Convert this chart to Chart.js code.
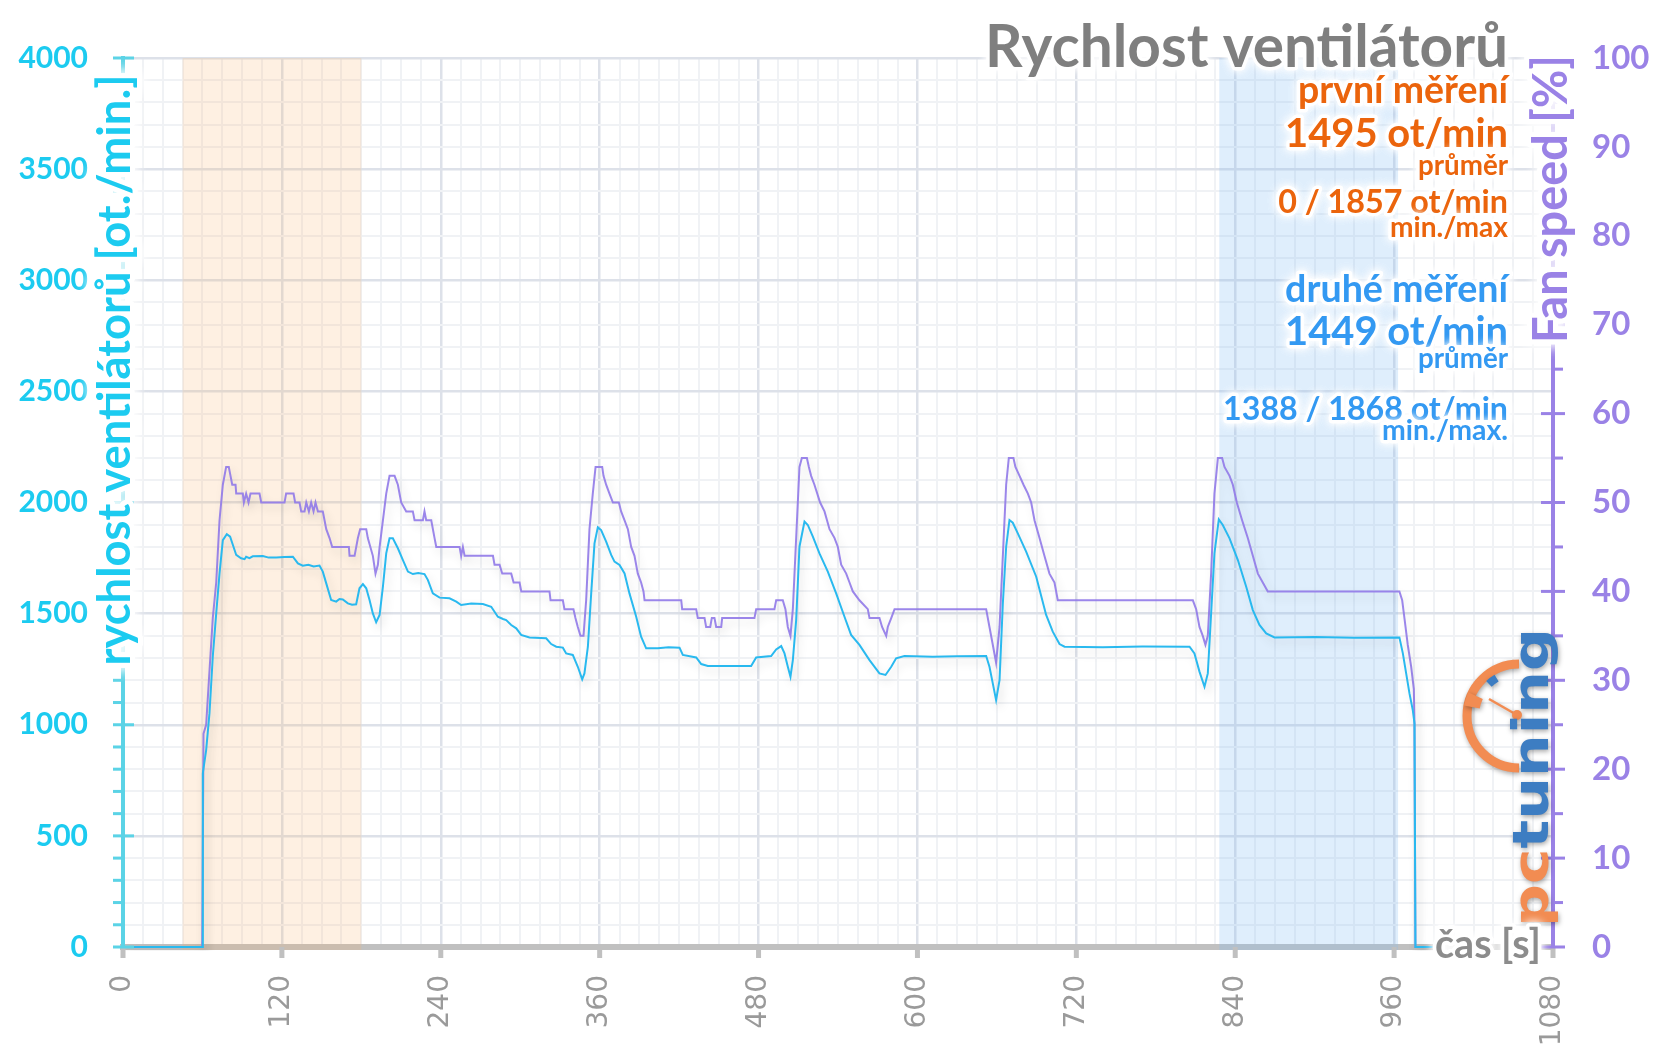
<!DOCTYPE html>
<html>
<head>
<meta charset="utf-8">
<title>Rychlost ventilátorů</title>
<script src="https://cdn.jsdelivr.net/npm/chart.js@4.4.1/dist/chart.umd.min.js"></script>
<style>
  html, body { margin: 0; padding: 0; background: #fff; }
  canvas { display: block; }
</style>
</head>
<body>
<canvas id="fanChart" width="1656" height="1044"></canvas>
<script>
// values: [time s, value]
const rpmSamples = [
  [0, 0], [59.8, 0], [60.3, 782], [62.8, 886], [65.3, 1051], [67.8, 1306], [70.4, 1501], [72.9, 1681],
  [75.4, 1831], [78.4, 1857], [80.9, 1846], [83.0, 1809], [85.5, 1764], [89.2, 1749], [91.8, 1745],
  [93.0, 1756], [95.5, 1750], [98, 1758], [105.6, 1759], [110, 1752], [115.7, 1753], [122, 1755],
  [128.3, 1756], [132.1, 1726], [135.8, 1716], [140, 1720], [144, 1712], [148.4, 1716], [150.9, 1689],
  [153.5, 1636], [157.2, 1561], [161.0, 1554], [163.5, 1566], [166.0, 1564], [169.8, 1546], [173, 1540],
  [176.1, 1542], [178.6, 1614], [181.2, 1633], [183.7, 1614], [186.2, 1561], [188.7, 1501], [191.2, 1461],
  [193.8, 1494], [196.3, 1621], [198.8, 1771], [201.3, 1839], [203.8, 1839], [207.6, 1794], [211.4, 1741],
  [215.2, 1689], [218.9, 1678], [223, 1683], [227.7, 1678], [230.3, 1651], [234.0, 1591], [239.1, 1572],
  [246.6, 1569], [251.7, 1554], [255.4, 1539], [263, 1545], [271.8, 1543], [278.1, 1531], [283.1, 1486],
  [287, 1476], [289.4, 1471], [293.2, 1449], [297.0, 1434], [300.7, 1404], [307.0, 1393], [319.6, 1389],
  [323.4, 1363], [327.2, 1351], [332.2, 1347], [334.7, 1321], [339.7, 1314], [343.5, 1261], [346.8, 1204],
  [348.5, 1231], [351.1, 1351], [353.6, 1591], [356.1, 1816], [358.6, 1888], [361.1, 1876], [364.9, 1824],
  [368.7, 1764], [371.2, 1734], [375.0, 1719], [378.8, 1681], [382.5, 1591], [387.6, 1486], [391.3, 1396],
  [395.1, 1344], [403.9, 1344], [412, 1349], [420.3, 1347], [422.8, 1314], [432.9, 1303], [436.7, 1273],
  [441.7, 1264], [474.4, 1264], [478.2, 1303], [489.5, 1309], [493.3, 1339], [497.1, 1354], [499.6, 1321],
  [502.1, 1261], [504.1, 1216], [505.9, 1291], [508.4, 1471], [510.9, 1801], [514.7, 1914], [517.2, 1899],
  [521.0, 1846], [526.0, 1771], [532.3, 1689], [538.6, 1591], [544.9, 1486], [549.9, 1404], [556.2, 1359],
  [563.8, 1291], [571.3, 1231], [575.9, 1224], [580.2, 1261], [583.9, 1299], [590.2, 1309], [611.6, 1306],
  [630, 1308], [651.9, 1309], [654.4, 1261], [656.9, 1186], [659.4, 1111], [662.0, 1201], [664.5, 1546],
  [667.0, 1801], [669.5, 1921], [672.0, 1909], [675.8, 1861], [682.1, 1779], [689.7, 1666], [697.2, 1494],
  [702.2, 1419], [707.3, 1363], [711.1, 1351], [740, 1349], [770, 1352], [805.5, 1351], [809.2, 1321],
  [813.0, 1239], [816.8, 1171], [819.3, 1231], [821.8, 1501], [824.3, 1771], [827.6, 1924], [830.6, 1899],
  [835.7, 1839], [842.0, 1741], [848.3, 1621], [853.3, 1516], [858.3, 1449], [863.4, 1411], [869.7, 1393],
  [900, 1395], [930, 1391], [964.0, 1393], [966.6, 1321], [969.1, 1231], [971.6, 1141], [974.1, 1066],
  [975.4, 1006], [976.1, 0], [990, 0]
];

const fanSamples = [
  [0, 0], [59.8, 0], [60.8, 24], [62.8, 25], [65.3, 31], [67.8, 37], [70.4, 41], [72.9, 48], [75.4, 52],
  [77.9, 54], [79.9, 54], [81.2, 53], [82.5, 52], [85.0, 52], [85.5, 51], [90.5, 51], [91.3, 50], [93.0, 51],
  [94.8, 50], [96.3, 51], [103.1, 51], [104.4, 50], [122.0, 50], [123.2, 51], [128.8, 51], [130.0, 50],
  [133.3, 50], [134.6, 49], [137.1, 49], [138.4, 50], [140.4, 49], [142.1, 50], [143.9, 49], [145.4, 50],
  [147.2, 49], [150.9, 49], [152.2, 48], [153.5, 47], [156.0, 46], [158.0, 45], [170.6, 45], [171.1, 44],
  [174.9, 44], [177.4, 46], [179.1, 47], [183.7, 47], [184.9, 46], [188.7, 44], [190.7, 42], [192.5, 43],
  [193.8, 45], [196.3, 48], [198.8, 51], [201.3, 53], [205.1, 53], [207.6, 52], [210.1, 50], [213.9, 49],
  [218.9, 49], [220.2, 48], [226.5, 48], [227.7, 49], [229.0, 48], [232.8, 48], [235.3, 46], [236.6, 45],
  [254.2, 45], [255.4, 44], [256.7, 45], [258.0, 44], [279.4, 44], [280.6, 43], [284.4, 43], [286.4, 42],
  [293.2, 42], [295.0, 41], [299.5, 41], [300.8, 40], [322.1, 40], [322.9, 39], [332.2, 39], [333.4, 38],
  [340.2, 38], [341.7, 37], [343.5, 36], [345.5, 35], [347.8, 35], [349.8, 39], [352.3, 47], [354.8, 51],
  [356.9, 54], [361.9, 54], [362.9, 53], [364.9, 52], [367.4, 51], [370.0, 50], [374.5, 50], [376.2, 49],
  [378.8, 48], [381.3, 47], [383.8, 45], [386.3, 44], [388.8, 42], [391.3, 41], [393.1, 40], [393.9, 39],
  [421.6, 39], [422.3, 38], [432.9, 38], [434.1, 37], [439.2, 37], [440.4, 36], [443.5, 36], [444.7, 37],
  [446.7, 37], [448.0, 36], [451.8, 36], [452.5, 37], [476.9, 37], [478.2, 38], [492.0, 38], [493.3, 39],
  [498.3, 39], [500.3, 38], [502.1, 36], [504.1, 35], [505.9, 38], [508.4, 46], [510.9, 54], [512.7, 55],
  [516.5, 55], [518.0, 54], [519.7, 53], [522.2, 52], [526.5, 50], [529.8, 49], [533.6, 47], [537.4, 46],
  [539.9, 45], [542.4, 43], [546.2, 42], [548.7, 41], [551.2, 40], [556.2, 39], [562.5, 38], [563.8, 37],
  [571.3, 37], [573.3, 36], [576.4, 35], [577.6, 36], [580.2, 37], [582.7, 38], [651.9, 38], [654.4, 36],
  [656.9, 34], [659.4, 32], [662.0, 36], [664.5, 44], [667.0, 52], [669.0, 55], [672.5, 55], [674.0, 54],
  [677.1, 53], [680.1, 52], [683.4, 51], [685.9, 50], [688.4, 48], [692.2, 46], [695.9, 44], [699.7, 42],
  [703.5, 41], [706.0, 39], [808.0, 39], [810.5, 38], [813.0, 36], [815.5, 35], [817.5, 34], [819.3, 35],
  [821.8, 42], [824.3, 51], [826.9, 55], [830.1, 55], [831.9, 54], [835.7, 53], [838.2, 52], [841.2, 50],
  [845.2, 48], [849.5, 46], [853.3, 44], [857.1, 42], [860.8, 41], [864.6, 40], [964.0, 40], [966.1, 39],
  [967.8, 37], [970.3, 34], [972.9, 31.5], [974.9, 29], [975.4, 25], [976.1, 0], [990, 0]
];

// shaded measurement windows, seconds
const firstRun = [45, 180];
const secondRun = [828, 963];

// summary numbers printed in the corner
const firstStats = { avg: 1495, min: 0, max: 1857 };
const secondStats = { avg: 1449, min: 1388, max: 1868 };

const timeLabelStep = 120;
const rpmLabelStep = 500;
const fanLabelStep = 10;

const FONT = 'Lato';
const ORANGE = '#eb640c';
const BLUE = '#3399f2';
const CYAN = '#1ccbf0';
const PURPLE = '#9a82e6';
const GRID_MAJOR = '#dde1e9';
const GRID_MINOR = '#f0f2f5';

function fitFont(ctx, text, weight, family, width) {
  ctx.font = `${weight} 100px "${family}"`;
  const size = 100 * width / ctx.measureText(text).width;
  ctx.font = `${weight} ${size}px "${family}"`;
}

function glowText(ctx, text, x, y, color, blur) {
  ctx.save();
  ctx.shadowColor = '#fff';
  ctx.shadowBlur = blur;
  ctx.strokeStyle = 'rgba(255,255,255,0.95)';
  ctx.lineWidth = blur * 0.7;
  ctx.lineJoin = 'round';
  ctx.strokeText(text, x, y);
  ctx.strokeText(text, x, y);
  ctx.restore();
  ctx.fillStyle = color;
  ctx.fillText(text, x, y);
}

function rotatedTitle(ctx, text, baseX, midY, width, color) {
  ctx.save();
  ctx.translate(baseX, midY);
  ctx.rotate(-Math.PI / 2);
  fitFont(ctx, text, 'bold', FONT, width);
  ctx.textAlign = 'center';
  ctx.textBaseline = 'alphabetic';
  glowText(ctx, text, 0, 0, color, 14);
  ctx.restore();
}

function drawLogo(ctx) {
  ctx.save();
  ctx.shadowColor = 'rgba(0,0,0,0.35)';
  ctx.shadowBlur = 5;
  ctx.shadowOffsetX = 1;
  ctx.shadowOffsetY = 2;
  // gauge
  const cx = 1519, cy = 716;
  ctx.strokeStyle = '#f28c52';
  ctx.lineWidth = 9;
  ctx.beginPath();
  ctx.arc(cx, cy, 52, Math.PI / 2, Math.PI * 1.5);
  ctx.stroke();
  ctx.lineWidth = 16;
  ctx.beginPath();
  ctx.arc(cx, cy, 48, Math.PI * 1.06, Math.PI * 1.14);
  ctx.stroke();
  ctx.strokeStyle = '#3d7dc2';
  ctx.lineWidth = 8;
  ctx.beginPath();
  ctx.arc(cx, cy, 44, Math.PI * 1.26, Math.PI * 1.33);
  ctx.stroke();
  ctx.strokeStyle = '#f28c52';
  ctx.lineWidth = 2.5;
  ctx.beginPath();
  ctx.moveTo(cx - 2, cy - 1);
  ctx.lineTo(cx - 30, cy - 17);
  ctx.stroke();
  ctx.fillStyle = '#f28c52';
  ctx.beginPath();
  ctx.arc(cx - 2, cy - 1, 5, 0, Math.PI * 2);
  ctx.fill();
  // wordmark
  ctx.translate(1548, 927);
  ctx.rotate(-Math.PI / 2);
  ctx.font = 'bold 50px "DejaVu Sans"';
  const wPc = ctx.measureText('pc').width;
  const wAll = ctx.measureText('pctuning').width;
  ctx.scale(299 / wAll, 1);
  ctx.textAlign = 'left';
  ctx.textBaseline = 'alphabetic';
  ctx.fillStyle = '#f28c52';
  ctx.fillText('pc', 0, 0);
  ctx.fillStyle = '#3d7dc2';
  ctx.fillText('tuning', wPc, 0);
  ctx.restore();
}

const decorations = {
  id: 'decorations',
  beforeDatasetsDraw(chart) {
    const { ctx, chartArea: a, scales: { x } } = chart;
    ctx.save();
    [[firstRun, 'rgba(250,180,110,0.2)'], [secondRun, 'rgba(130,190,245,0.26)']].forEach(([run, color]) => {
      const x0 = x.getPixelForValue(run[0]);
      const x1 = x.getPixelForValue(run[1]);
      ctx.fillStyle = color;
      ctx.fillRect(x0, a.top, x1 - x0, a.bottom - a.top + 3);
    });
    ctx.restore();
  },
  beforeDatasetDraw(chart) {
    const ctx = chart.ctx;
    ctx.save();
    ctx.shadowColor = 'rgba(0,0,0,0.15)';
    ctx.shadowBlur = 10;
    ctx.shadowOffsetX = 3;
    ctx.shadowOffsetY = 5;
  },
  afterDatasetDraw(chart) {
    chart.ctx.restore();
  },
  afterDraw(chart) {
    const { ctx, chartArea: a, scales: { x, y, y1 } } = chart;
    ctx.save();

    // axis tick marks
    ctx.fillStyle = '#c0c0c0';
    for (let t = 0; t <= 1080; t += timeLabelStep) {
      ctx.fillRect(x.getPixelForValue(t) - 2.5, a.bottom, 5, 11);
    }
    ctx.fillStyle = '#5bd3e6';
    for (let v = 0; v <= 4000; v += 100) {
      const py = y.getPixelForValue(v);
      ctx.fillRect(a.left - 10, py - 1.5, v % rpmLabelStep === 0 ? 21 : 10, 3);
    }
    ctx.fillStyle = PURPLE;
    for (let v = 0; v <= 100; v += 5) {
      const py = y1.getPixelForValue(v);
      if (v % fanLabelStep === 0) ctx.fillRect(a.right - 12, py - 1.5, 24, 3);
      else ctx.fillRect(a.right, py - 1.5, 10, 3);
    }

    drawLogo(ctx);

    // axis titles
    rotatedTitle(ctx, 'rychlost ventilátorů [ot./min.]', 130, 370, 591, CYAN);
    rotatedTitle(ctx, 'Fan speed [%]', 1567, 199, 288, PURPLE);

    ctx.textBaseline = 'alphabetic';
    ctx.textAlign = 'left';
    fitFont(ctx, 'čas [s]', 'bold', FONT, 106);
    glowText(ctx, 'čas [s]', 1435, 958, '#8c8c8c', 10);

    // title and summary
    ctx.textAlign = 'right';
    const right = 1508;
    const lines = [
      ['Rychlost ventilátorů', 67, 523, '#7f7f7f'],
      ['první měření', 103, 210, ORANGE],
      [`${firstStats.avg} ot/min`, 147, 223, ORANGE],
      ['průměr', 175, 90, ORANGE],
      [`${firstStats.min} / ${firstStats.max} ot/min`, 213, 230, ORANGE],
      ['min./max', 237, 118, ORANGE],
      ['druhé měření', 302, 223, BLUE],
      [`${secondStats.avg} ot/min`, 345, 223, BLUE],
      ['průměr', 368, 90, BLUE],
      [`${secondStats.min} / ${secondStats.max} ot/min`, 420, 285, BLUE],
      ['min./max.', 440, 126, BLUE]
    ];
    lines.forEach(([text, by, w, color]) => {
      fitFont(ctx, text, 'bold', FONT, w);
      glowText(ctx, text, right, by, color, 9);
    });

    ctx.restore();
  }
};

const flatPadding = s => {
  s.paddingTop = 0;
  s.paddingBottom = 0;
  s.paddingLeft = 0;
  s.paddingRight = 0;
};

const gridColor = step => c => (c.tick && Math.round(c.tick.value) % step === 0 ? GRID_MAJOR : GRID_MINOR);
const gridWidth = step => c => (c.tick && Math.round(c.tick.value) % step === 0 ? 2.5 : 2);

const chart = new Chart(document.getElementById('fanChart'), {
  type: 'line',
  data: {
    datasets: [
      {
        label: 'rychlost ventilátorů',
        data: rpmSamples.map(([t, v]) => ({ x: t, y: v })),
        yAxisID: 'y',
        borderColor: '#29b9ef',
        borderWidth: 2,
        pointRadius: 0,
        tension: 0,
        clip: 4
      },
      {
        label: 'Fan speed',
        data: fanSamples.map(([t, v]) => ({ x: t, y: v })),
        yAxisID: 'y1',
        borderColor: 'rgba(146,124,232,0.92)',
        borderWidth: 2,
        pointRadius: 0,
        tension: 0,
        clip: 4
      }
    ]
  },
  options: {
    responsive: false,
    animation: false,
    layout: { padding: { top: 58, left: 0, right: 0, bottom: 0 } },
    plugins: { legend: { display: false }, tooltip: { enabled: false } },
    scales: {
      x: {
        type: 'linear',
        min: 0,
        max: 1080,
        ticks: {
          stepSize: 15,
          autoSkip: false,
          minRotation: 90,
          maxRotation: 90,
          padding: 28,
          color: '#9a9a9a',
          font: { family: 'DejaVu Sans', size: 28 },
          callback: v => (Math.round(v) % timeLabelStep === 0 ? Math.round(v) : '')
        },
        grid: { color: gridColor(timeLabelStep), lineWidth: gridWidth(timeLabelStep), drawTicks: false },
        border: { color: '#c0c0c0', width: 6 },
        afterFit: s => { flatPadding(s); s.height = 97; }
      },
      y: {
        position: 'left',
        min: 0,
        max: 4000,
        ticks: {
          stepSize: 100,
          autoSkip: false,
          padding: 35,
          color: CYAN,
          font: { family: FONT, weight: 'bold', size: 30 },
          callback: v => (Math.round(v) % rpmLabelStep === 0 ? Math.round(v) : '')
        },
        grid: { color: gridColor(rpmLabelStep), lineWidth: gridWidth(rpmLabelStep), drawTicks: false },
        border: { color: '#5bd3e6', width: 4 },
        afterFit: s => { flatPadding(s); s.width = 123; }
      },
      y1: {
        position: 'right',
        min: 0,
        max: 100,
        ticks: {
          stepSize: 5,
          autoSkip: false,
          padding: 39,
          color: PURPLE,
          font: { family: FONT, weight: 'bold', size: 33 },
          callback: v => (Math.round(v) % fanLabelStep === 0 ? Math.round(v) : '')
        },
        grid: { display: false, drawTicks: false },
        border: { color: PURPLE, width: 4 },
        afterFit: s => { flatPadding(s); s.width = 103; }
      }
    }
  },
  plugins: [decorations]
});
</script>
</body>
</html>
